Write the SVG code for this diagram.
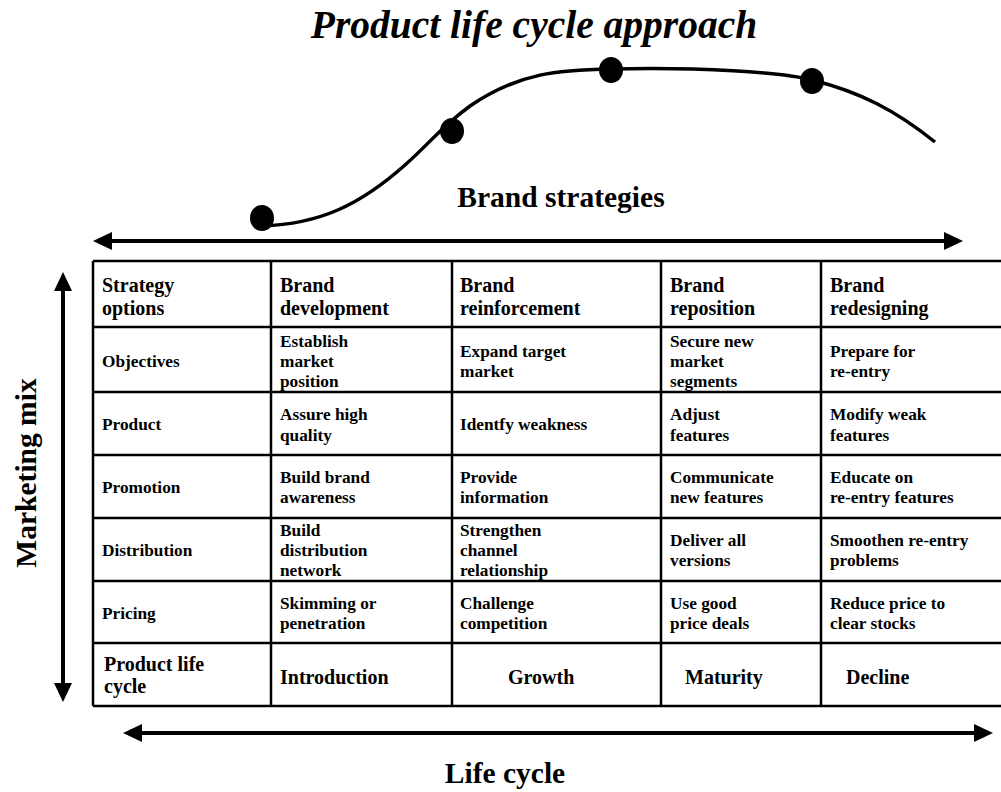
<svg xmlns="http://www.w3.org/2000/svg" width="1001" height="792" viewBox="0 0 1001 792">
<style>
.t{font-family:"Liberation Serif","Times New Roman",serif;font-weight:bold;fill:#000}
.c{font-size:17.3px}
.h{font-size:20px}
.big{font-size:29.5px}
.grid{stroke:#000;stroke-width:2.5;fill:none}
.arr{stroke:#000;stroke-width:4;fill:none}
</style>
<defs>
<marker id="ah" markerUnits="userSpaceOnUse" markerWidth="20" markerHeight="20" refX="0" refY="9" orient="auto-start-reverse" viewBox="0 0 20 18">
<path d="M0,0 L19,9 L0,18 z" fill="#000"/>
</marker>
</defs>
<rect width="1001" height="792" fill="#fff"/>
<text id="title" class="t" x="534" y="38" font-size="39.5" font-style="italic" text-anchor="middle">Product life cycle approach</text>
<g id="curve">
<path d="M262,226 C320,224 360,205 405,165 C430,143 440,128 470,106 C520,72 560,70 611,69 C700,67 780,72 812,80 C860,92 895,110 935,142" stroke="#000" stroke-width="3.5" fill="none"/>
<ellipse cx="262" cy="218" rx="12" ry="13" fill="#000"/>
<ellipse cx="452" cy="131" rx="12" ry="13" fill="#000"/>
<ellipse cx="611" cy="70" rx="12" ry="13" fill="#000"/>
<ellipse cx="812" cy="81" rx="12" ry="13" fill="#000"/>
</g>
<text id="brand-strategies" class="t big" x="561" y="207" text-anchor="middle">Brand strategies</text>
<text id="marketing-mix" class="t big" transform="translate(36,473) rotate(-90)" text-anchor="middle">Marketing mix</text>
<text id="life-cycle" class="t big" x="505" y="783" text-anchor="middle">Life cycle</text>
<g id="connectors">
<line class="arr" x1="112" y1="241" x2="944" y2="241" marker-start="url(#ah)" marker-end="url(#ah)"/>
<line class="arr" x1="142" y1="733" x2="974" y2="733" marker-start="url(#ah)" marker-end="url(#ah)"/>
<line class="arr" x1="63" y1="291" x2="63" y2="683" marker-start="url(#ah)" marker-end="url(#ah)"/>
</g>
<g id="table">
<path class="grid" d="M93,261 H1001 M93,327 H1001 M93,392 H1001 M93,455 H1001 M93,518 H1001 M93,581 H1001 M93,643 H1001 M93,706 H1001 M93,261 V706 M271,261 V706 M452,261 V706 M661,261 V706 M821,261 V706"/>
</g>
<g id="row-header">
<text class="t h" x="102" y="292">Strategy</text><text class="t h" x="102" y="315">options</text>
<text class="t h" x="280" y="292">Brand</text><text class="t h" x="280" y="315">development</text>
<text class="t h" x="460" y="292">Brand</text><text class="t h" x="460" y="315">reinforcement</text>
<text class="t h" x="670" y="292">Brand</text><text class="t h" x="670" y="315">reposition</text>
<text class="t h" x="830" y="292">Brand</text><text class="t h" x="830" y="315">redesigning</text>
</g>
<g id="row-objectives">
<text class="t c" x="102" y="367">Objectives</text>
<text class="t c" x="280" y="347">Establish</text><text class="t c" x="280" y="367">market</text><text class="t c" x="280" y="387">position</text>
<text class="t c" x="460" y="357">Expand target</text><text class="t c" x="460" y="377">market</text>
<text class="t c" x="670" y="347">Secure new</text><text class="t c" x="670" y="367">market</text><text class="t c" x="670" y="387">segments</text>
<text class="t c" x="830" y="357">Prepare for</text><text class="t c" x="830" y="377">re-entry</text>
</g>
<g id="row-product">
<text class="t c" x="102" y="430">Product</text>
<text class="t c" x="280" y="420">Assure high</text><text class="t c" x="280" y="441">quality</text>
<text class="t c" x="460" y="430">Identfy weakness</text>
<text class="t c" x="670" y="420">Adjust</text><text class="t c" x="670" y="441">features</text>
<text class="t c" x="830" y="420">Modify weak</text><text class="t c" x="830" y="441">features</text>
</g>
<g id="row-promotion">
<text class="t c" x="102" y="493">Promotion</text>
<text class="t c" x="280" y="483">Build brand</text><text class="t c" x="280" y="503">awareness</text>
<text class="t c" x="460" y="483">Provide</text><text class="t c" x="460" y="503">information</text>
<text class="t c" x="670" y="483">Communicate</text><text class="t c" x="670" y="503">new features</text>
<text class="t c" x="830" y="483">Educate on</text><text class="t c" x="830" y="503">re-entry features</text>
</g>
<g id="row-distribution">
<text class="t c" x="102" y="556">Distribution</text>
<text class="t c" x="280" y="536">Build</text><text class="t c" x="280" y="556">distribution</text><text class="t c" x="280" y="576">network</text>
<text class="t c" x="460" y="536">Strengthen</text><text class="t c" x="460" y="556">channel</text><text class="t c" x="460" y="576">relationship</text>
<text class="t c" x="670" y="546">Deliver all</text><text class="t c" x="670" y="566">versions</text>
<text class="t c" x="830" y="546">Smoothen re-entry</text><text class="t c" x="830" y="566">problems</text>
</g>
<g id="row-pricing">
<text class="t c" x="102" y="619">Pricing</text>
<text class="t c" x="280" y="609">Skimming or</text><text class="t c" x="280" y="629">penetration</text>
<text class="t c" x="460" y="609">Challenge</text><text class="t c" x="460" y="629">competition</text>
<text class="t c" x="670" y="609">Use good</text><text class="t c" x="670" y="629">price deals</text>
<text class="t c" x="830" y="609">Reduce price to</text><text class="t c" x="830" y="629">clear stocks</text>
</g>
<g id="row-lifecycle">
<text class="t h" x="104" y="671">Product life</text><text class="t h" x="104" y="693">cycle</text>
<text class="t h" x="280" y="684">Introduction</text>
<text class="t h" x="508" y="684">Growth</text>
<text class="t h" x="685" y="684">Maturity</text>
<text class="t h" x="846" y="684">Decline</text>
</g>
</svg>
